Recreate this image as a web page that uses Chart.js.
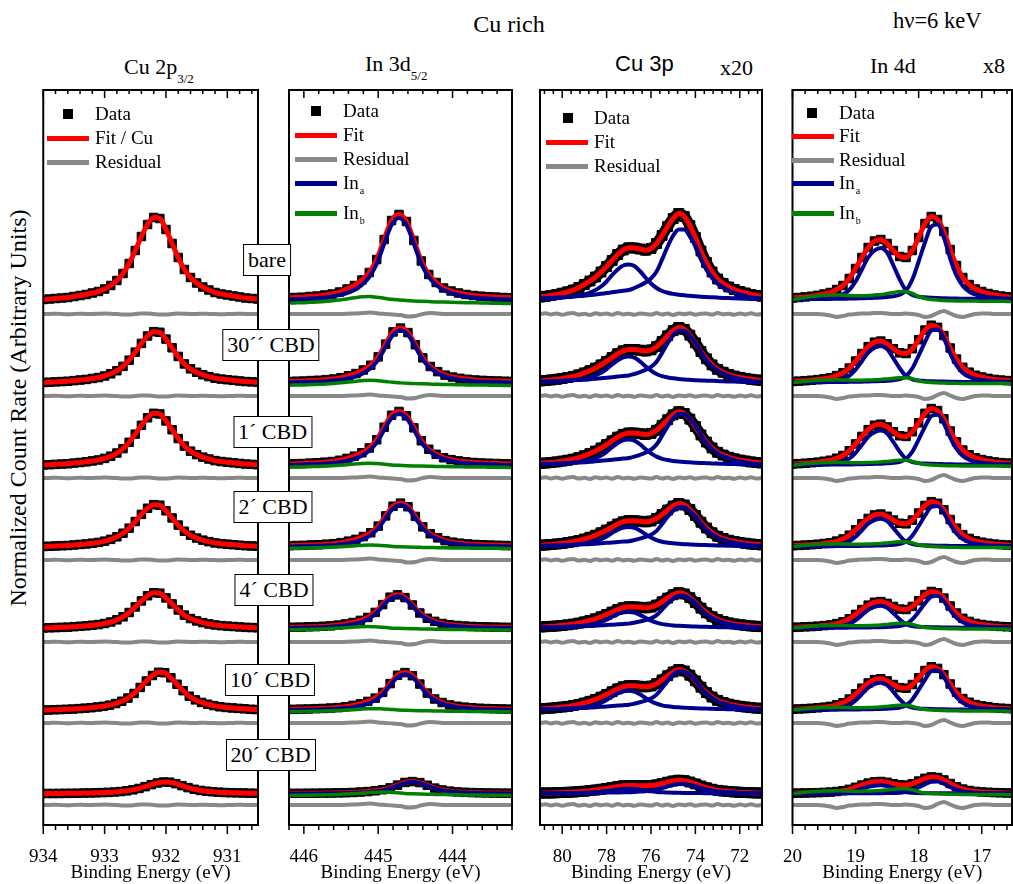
<!DOCTYPE html>
<html>
<head>
<meta charset="utf-8">
<title>Cu rich - HAXPES spectra</title>
<script src="https://cdn.jsdelivr.net/npm/chart.js@4.4.1/dist/chart.umd.min.js"></script>
<style>
  body { margin: 0; background: #fff; }
  #page { position: relative; width: 1013px; height: 884px; overflow: hidden; font-family: "Liberation Serif", "Times New Roman", serif; color: #000; }
  #page canvas { position: absolute; }
  .txt { position: absolute; white-space: nowrap; line-height: 1; }
  .tag { position: absolute; z-index: 5; background: #fff; border: 1.5px solid #000; box-sizing: border-box; height: 32px; line-height: 30px; font-size: 22px; padding: 0 4px; transform: translateX(-50%); white-space: nowrap; }
  .legline { position: absolute; height: 5px; z-index: 4; }
  .legsq { position: absolute; width: 10px; height: 10px; background: #000; z-index: 4; }
  .legtxt { position: absolute; font-size: 19px; line-height: 22px; white-space: nowrap; z-index: 4; }
  .legtxt sub { font-size: 10px; position: relative; top: 5px; vertical-align: baseline; margin-left: 1px; }
</style>
</head>
<body>
<div id="page">
  <div class="txt" style="left:509px; top:12px; font-size:24px; transform:translateX(-50%);">Cu rich</div>
  <div class="txt" style="left:893px; top:10px; font-size:22.5px;">hν=6 keV</div>
  <div class="txt" style="left:124px; top:56px; font-size:22px;">Cu 2p<span style="font-size:13px; position:relative; top:9px;">3/2</span></div>
  <div class="txt" style="left:365px; top:53px; font-size:22px;">In 3d<span style="font-size:13px; position:relative; top:9px;">5/2</span></div>
  <div class="txt" style="left:615px; top:53px; font-size:22px; font-family:'Liberation Sans', Arial, sans-serif;">Cu 3p</div>
  <div class="txt" style="left:720px; top:57px; font-size:22px;">x20</div>
  <div class="txt" style="left:870px; top:55px; font-size:22px;">In 4d</div>
  <div class="txt" style="left:983px; top:55px; font-size:22px;">x8</div>
  <div class="txt" style="left:18px; top:408px; font-size:24px; transform:translate(-50%,-50%) rotate(-90deg);">Normalized Count Rate (Arbitrary Units)</div>
</div>
<script>
// sample labels (top to bottom)
const rowNames = ['bare', '30´´ CBD', '1´ CBD', '2´ CBD', '4´ CBD', '10´ CBD', '20´ CBD'];
// vertical offsets of each spectrum and its residual (arbitrary units)
const rowBase = [525.5, 442.5, 360, 278.5, 197, 115, 31.5];
const rowResid = [511, 429, 347, 265, 183, 102, 20];

// Cu 2p3/2
const cu2pEnergy = [934.2, 934.1, 934.0, 933.9, 933.8, 933.7, 933.6, 933.5, 933.4, 933.3, 933.2, 933.1, 933.0, 932.9, 932.8, 932.7, 932.6, 932.5, 932.4, 932.3, 932.2, 932.1, 932.0, 931.9, 931.8, 931.7, 931.6, 931.5, 931.4, 931.3, 931.2, 931.1, 931.0, 930.9, 930.8, 930.7, 930.6, 930.5];
const cu2pTotal = [0, 0, 0, 0.5, 1, 1.5, 2, 3, 4, 5, 6.5, 8, 10.5, 14, 19, 26, 36, 49, 63, 75, 82, 81, 70, 56, 42, 30, 22, 16.5, 12.5, 9.5, 7, 5.5, 4.5, 3.5, 2.5, 1.5, 1, 0.5];
const cu2pResid = [0, 0, 0, 0, 0.3, 0, -0.3, 0, 0.3, 0, 0, 0.3, 0.5, 0.3, 0, -0.5, -0.5, 0, 0.5, 0.5, 0, -0.5, -0.5, 0, 0.5, 0.3, 0, 0, 0.3, 0, 0, -0.3, 0, 0, 0.3, 0, 0, 0];
const cu2pScale = [1, 0.62, 0.63, 0.51, 0.43, 0.46, 0.14];
const cu2pShift = [0, 0, 0, 0, 0, -0.08, -0.16];
const cu2pTicks = [934, 933, 932, 931];

// In 3d5/2
const in3dEnergy = [446.4, 446.3, 446.2, 446.1, 446.0, 445.9, 445.8, 445.7, 445.6, 445.5, 445.4, 445.3, 445.2, 445.1, 445.0, 444.9, 444.8, 444.7, 444.6, 444.5, 444.4, 444.3, 444.2, 444.1, 444.0, 443.9, 443.8, 443.7, 443.6, 443.5, 443.4, 443.3, 443.2, 443.1];
const in3dTotal = [1.2, 1.3, 1.5, 2, 2.3, 3, 3.5, 4.5, 5.5, 7.5, 10.5, 14, 19.5, 27, 40, 60, 79, 85, 78, 59, 38.5, 25, 17, 11.5, 8.5, 6.5, 5, 4, 3.3, 2.8, 2.4, 2, 1.7, 1.5];
const in3dA = [0, 0, 0, 0.3, 0.6, 1, 1.5, 2, 3, 4.5, 6.5, 9.5, 14.5, 22.5, 35.5, 55.5, 74.5, 81.5, 74.5, 55.5, 35.5, 22.5, 14.5, 9.5, 6.5, 4.5, 3, 2, 1.5, 1, 0.6, 0.3, 0, 0];
const in3dB = [-3.8, -3.7, -3.6, -3.4, -3.2, -2.8, -2.4, -1.9, -1.2, -0.4, 0.6, 1.7, 2.7, 3, 2.3, 1.3, 0.2, -0.5, -1.1, -1.5, -1.8, -2.1, -2.4, -2.6, -2.8, -3, -3.2, -3.3, -3.4, -3.6, -3.7, -3.9, -4, -4.1];
const in3dResid = [0, 0, 0, 0, 0, 0, 0, 0, 0, 0, 0.3, 0.6, 1, 1.5, 0.5, 0, -0.5, -1, -2.5, -2, 0, 1, 0.5, 0, 0, 0, 0, 0, 0, 0, 0, 0, 0, 0];
const in3dScale = [1, 0.64, 0.63, 0.51, 0.39, 0.44, 0.14];
const in3dBScale = [1, 0.75, 0.6, 0.5, 0.5, 0.45, 0.5];
const in3dShift = [0.02, 0, 0.02, 0, 0.04, -0.06, -0.16];
const in3dTicks = [446, 445, 444];

// Cu 3p (x20)
const cu3pEnergy = [81, 80.75, 80.5, 80.25, 80, 79.75, 79.5, 79.25, 79, 78.75, 78.5, 78.25, 78, 77.75, 77.5, 77.25, 77, 76.75, 76.5, 76.25, 76, 75.75, 75.5, 75.25, 75, 74.75, 74.5, 74.25, 74, 73.75, 73.5, 73.25, 73, 72.75, 72.5, 72.25, 72, 71.75, 71.5, 71.25, 71];
const cu3pTotal = [2.5, 3.2, 4, 5, 6.3, 7.7, 9.5, 12, 15, 18.5, 22.5, 27.5, 33, 39, 45, 49.5, 51.7, 51.5, 50.5, 49.3, 51, 56, 64, 73, 81, 86, 83, 74, 62, 48.5, 37, 27.5, 20.5, 16, 12.5, 10, 8, 6.5, 5, 4, 3.3];
const cu3pA = [1.2, 1.4, 1.6, 1.9, 2.2, 2.5, 3, 3.4, 3.8, 4.4, 5, 5.7, 6.5, 7.2, 8, 8.8, 9.5, 11.5, 14, 17, 21, 28, 40, 53, 64, 70, 70, 63, 54, 41, 30, 22, 16, 12, 9, 6.7, 5, 3.5, 2.5, 1.5, 1];
const cu3pB = [0.85, 1.05, 1.3, 1.6, 2, 2.5, 3.1, 4, 5.2, 7, 9.5, 13, 18, 24.5, 30, 34, 35, 33.5, 28.5, 22, 16, 11.5, 8.5, 6.8, 5.6, 4.8, 4.2, 3.7, 3.2, 2.8, 2.5, 2.2, 1.9, 1.6, 1.4, 1.2, 1, 0.8, 0.6, 0.5, 0.4];
const cu3pResid = [0, 0.8, -0.5, 0.6, -0.8, 0.4, 0.9, -0.6, 0.2, -0.9, 0.7, -0.3, 0.5, -0.7, 1, -0.4, 0.3, -0.8, 0.6, 0, -0.6, 0.9, -0.5, 0.4, -1, 0.6, -0.2, 0.8, -0.7, 0.3, 0.5, -0.6, 0.9, -0.3, 0.2, -0.8, 0.6, -0.4, 0.7, -0.5, 0];
const cu3pScale = [1, 0.64, 0.62, 0.5, 0.41, 0.47, 0.155];
const cu3pCompScale = [1, 0.74, 0.73, 0.56, 0.46, 0.55, 0.135];
const cu3pTicks = [80, 78, 76, 74, 72];

// In 4d (x8)
const in4dEnergy = [20.0, 19.9, 19.8, 19.7, 19.6, 19.5, 19.4, 19.3, 19.2, 19.1, 19.0, 18.9, 18.8, 18.7, 18.6, 18.5, 18.4, 18.3, 18.2, 18.1, 18.0, 17.9, 17.8, 17.7, 17.6, 17.5, 17.4, 17.3, 17.2, 17.1, 17.0, 16.9, 16.8, 16.7, 16.6, 16.5];
const in4dTotal = [1.5, 2, 2.6, 3.3, 4.2, 5.5, 7, 10, 14, 21, 31, 42, 52, 58.5, 60, 56, 49, 43, 42, 49, 62, 76, 83, 80, 68, 50, 34, 22, 15, 10.5, 8, 6, 4.5, 3.5, 2.8, 2.3];
const in4dA1 = [0.3, 0.3, 0.4, 0.4, 0.5, 0.5, 0.6, 0.7, 0.8, 0.9, 1, 1.2, 1.4, 1.7, 2, 2.5, 3.2, 4.8, 9, 20, 38, 57, 73, 75, 62, 41, 24, 13.5, 8, 5, 3.5, 2.5, 1.8, 1.3, 1, 0.8];
const in4dA2 = [0.7, 0.8, 0.9, 1.1, 1.3, 1.7, 2.3, 3.5, 5.5, 9.5, 18, 30, 42, 49, 51.5, 47, 34, 20, 9, 4.5, 2.8, 2.2, 1.8, 1.5, 1.3, 1.1, 0.9, 0.8, 0.7, 0.6, 0.5, 0.5, 0.4, 0.4, 0.3, 0.3];
const in4dB = [0, 1, 2, 3, 3.5, 4, 4.3, 4.5, 4.3, 4, 3.8, 3.8, 4, 4.5, 5, 6, 7, 8, 8, 6, 3, 1, 0, -0.5, -1, -1.2, -1.4, -1.5, -1.6, -1.6, -1.7, -1.7, -1.8, -1.8, -1.9, -1.9];
const in4dResid = [0, 0, 0, 0, 0, -0.5, -1.5, -3, -2, -0.5, 0, 0.5, 0.5, 1, 1, 0.5, 0, 0, 0.5, 0, -1, -3, -2, 1, 3, 0.5, -2, -3, -1.5, 0, 0.5, 0.5, 0, 0, 0, 0];
const in4dScale = [1, 0.69, 0.68, 0.54, 0.44, 0.52, 0.2];
const in4dCompScale = [1, 0.71, 0.67, 0.54, 0.43, 0.53, 0.16];
const in4dBScale = [1, 0.6, 0.6, 0.6, 0.6, 0.6, 0.6];
const in4dTicks = [20, 19, 18, 17];

const FONT = '"Liberation Serif", "Times New Roman", serif';
const PLOT_TOP = 90, AXIS_H = 59, PAD = 20;
const page = document.getElementById('page');

// frame with inward top ticks and outward bottom ticks
const framePlugin = {
    id: 'frame',
    afterDraw(chart, args, opts) {
        const { ctx, chartArea: a, scales: { x } } = chart;
        ctx.save();
        ctx.strokeStyle = '#000';
        ctx.lineWidth = 1.5;
        ctx.beginPath();
        const first = Math.ceil(x.min / opts.minor - 1e-6);
        for (let k = first; k * opts.minor <= x.max + 1e-6; k++) {
            const v = k * opts.minor;
            const px = x.getPixelForValue(v);
            const major = opts.major.some(m => Math.abs(m - v) < 1e-6);
            ctx.moveTo(px, a.top);
            ctx.lineTo(px, a.top + (major ? 8 : 4));
            ctx.moveTo(px, a.bottom);
            ctx.lineTo(px, a.bottom + (major ? 9 : 5));
        }
        ctx.stroke();
        ctx.lineWidth = 2;
        ctx.strokeRect(a.left, a.top, a.right - a.left, a.bottom - a.top);
        ctx.restore();
    }
};

function series(energy, values, scale, base, shift) {
    return energy.map((e, i) => ({ x: e + shift, y: base + values[i] * scale }));
}

function lineSet(points, color, width, order) {
    return { data: points, showLine: true, borderColor: color, borderWidth: width, pointRadius: 0,
             fill: false, cubicInterpolationMode: 'monotone', order: order };
}

function buildDatasets(p) {
    let sets = [];
    rowNames.forEach((name, r) => {
        const shift = p.shift ? p.shift[r] : 0;
        const total = series(p.energy, p.total, p.scale[r], rowBase[r], shift);
        // measured points (dense in Cu 3p, so they merge into a band there)
        sets.push({ data: total, showLine: !!p.band, borderColor: '#000', borderWidth: p.band || 0,
                    cubicInterpolationMode: 'monotone', pointStyle: 'rect', pointRadius: p.dot,
                    pointBackgroundColor: '#000', pointBorderColor: '#000', pointBorderWidth: 1, order: 6 });
        sets.push(lineSet(total, '#ff0000', 5, 5));
        sets.push(lineSet(series(p.energy, p.resid, 1, rowResid[r], 0), '#888888', 4, 4));
        (p.blue || []).forEach(c => {
            sets.push(lineSet(series(p.energy, c, p.compScale[r], rowBase[r], shift), '#00008f', 4, 3));
        });
        if (p.green) {
            sets.push(lineSet(series(p.energy, p.green, p.greenScale[r], rowBase[r], shift), '#008000', 3.5, 2));
        }
    });
    return sets;
}

function makeChart(p) {
    let cv = document.createElement('canvas');
    cv.width = p.right - p.left + 2 * PAD;
    cv.height = 884 - (PLOT_TOP - 10);
    cv.style.left = (p.left - PAD) + 'px';
    cv.style.top = (PLOT_TOP - 10) + 'px';
    page.appendChild(cv);
    new Chart(cv.getContext('2d'), {
        type: 'scatter',
        data: { datasets: buildDatasets(p) },
        options: {
            responsive: false,
            animation: false,
            events: [],
            layout: { padding: { left: PAD, right: PAD, top: 10, bottom: 0 } },
            plugins: {
                legend: { display: false },
                tooltip: { enabled: false },
                frame: { major: p.ticks, minor: p.minor }
            },
            scales: {
                x: {
                    type: 'linear', reverse: true, min: p.min, max: p.max,
                    afterBuildTicks: s => { s.ticks = p.ticks.map(v => ({ value: v })); },
                    afterFit: s => { s.height = AXIS_H; },
                    grid: { display: false },
                    border: { display: false },
                    ticks: { color: '#000', font: { family: FONT, size: 19 }, padding: 13, maxRotation: 0, autoSkip: false },
                    title: { display: true, text: 'Binding Energy (eV)', color: '#000', font: { family: FONT, size: 19 }, padding: 0 }
                },
                y: { display: false, min: 0, max: 735 }
            }
        },
        plugins: [framePlugin]
    });
}

const panels = [
    { left: 36, right: 258, min: 930.5, max: 934, minor: 0.2, ticks: cu2pTicks, energy: cu2pEnergy, total: cu2pTotal,
      resid: cu2pResid, scale: cu2pScale, shift: cu2pShift, dot: 6 },
    { left: 289, right: 512, min: 443.2, max: 446.2, minor: 0.2, ticks: in3dTicks, energy: in3dEnergy, total: in3dTotal,
      resid: in3dResid, scale: in3dScale, shift: in3dShift, blue: [in3dA], compScale: in3dScale,
      green: in3dB, greenScale: in3dBScale, dot: 6 },
    { left: 540, right: 762, min: 71, max: 81, minor: 0.4, ticks: cu3pTicks, energy: cu3pEnergy, total: cu3pTotal,
      resid: cu3pResid, scale: cu3pScale, blue: [cu3pA, cu3pB], compScale: cu3pCompScale, dot: 7, band: 11 },
    { left: 790, right: 1012, min: 16.52, max: 20, minor: 0.2, ticks: in4dTicks, energy: in4dEnergy, total: in4dTotal,
      resid: in4dResid, scale: in4dScale, blue: [in4dA1, in4dA2], compScale: in4dCompScale,
      green: in4dB, greenScale: in4dBScale, dot: 6 }
];
panels.forEach(makeChart);

// legends
const legends = [
    { left: 36, lx: 11, mx: 32, tx: 59, ys: [114, 138, 162], items: [['sq', '#000', 'Data'], ['ln', '#ff0000', 'Fit / Cu'], ['ln', '#888888', 'Residual']] },
    { left: 289, lx: 6, mx: 27, tx: 54, ys: [111, 135, 159, 183, 213], items: [['sq', '#000', 'Data'], ['ln', '#ff0000', 'Fit'], ['ln', '#888888', 'Residual'], ['ln', '#00008f', 'In', 'a'], ['ln', '#008000', 'In', 'b']] },
    { left: 540, lx: 6, mx: 28, tx: 54, ys: [118, 142, 166], items: [['sq', '#000', 'Data'], ['ln', '#ff0000', 'Fit'], ['ln', '#888888', 'Residual']] },
    { left: 790, lx: 2, mx: 22, tx: 49, ys: [113, 136, 160, 183, 213], items: [['sq', '#000', 'Data'], ['ln', '#ff0000', 'Fit'], ['ln', '#888888', 'Residual'], ['ln', '#00008f', 'In', 'a'], ['ln', '#008000', 'In', 'b']] }
];
legends.forEach(lg => {
    lg.items.forEach((it, i) => {
        const y = lg.ys[i];
        let m = document.createElement('div');
        if (it[0] === 'sq') {
            m.className = 'legsq';
            m.style.left = (lg.left + lg.mx - 5) + 'px';
            m.style.top = (y - 5) + 'px';
        } else {
            m.className = 'legline';
            m.style.background = it[1];
            m.style.left = (lg.left + lg.lx) + 'px';
            m.style.width = '42px';
            m.style.top = (y - 2.5) + 'px';
        }
        page.appendChild(m);
        let t = document.createElement('div');
        t.className = 'legtxt';
        t.style.left = (lg.left + lg.tx) + 'px';
        t.style.top = (y - 11) + 'px';
        t.textContent = it[2];
        if (it[3]) {
            let s = document.createElement('sub');
            s.textContent = it[3];
            t.appendChild(s);
        }
        page.appendChild(t);
    });
});

// sample tags between the first two panels
const tagPos = [[267, 244], [271, 329], [272.5, 416], [273, 491], [274, 574], [270, 664], [270.5, 739]];
rowNames.forEach((name, r) => {
    let d = document.createElement('div');
    d.className = 'tag';
    d.style.left = tagPos[r][0] + 'px';
    d.style.top = tagPos[r][1] + 'px';
    d.textContent = name;
    page.appendChild(d);
});
</script>
</body>
</html>
